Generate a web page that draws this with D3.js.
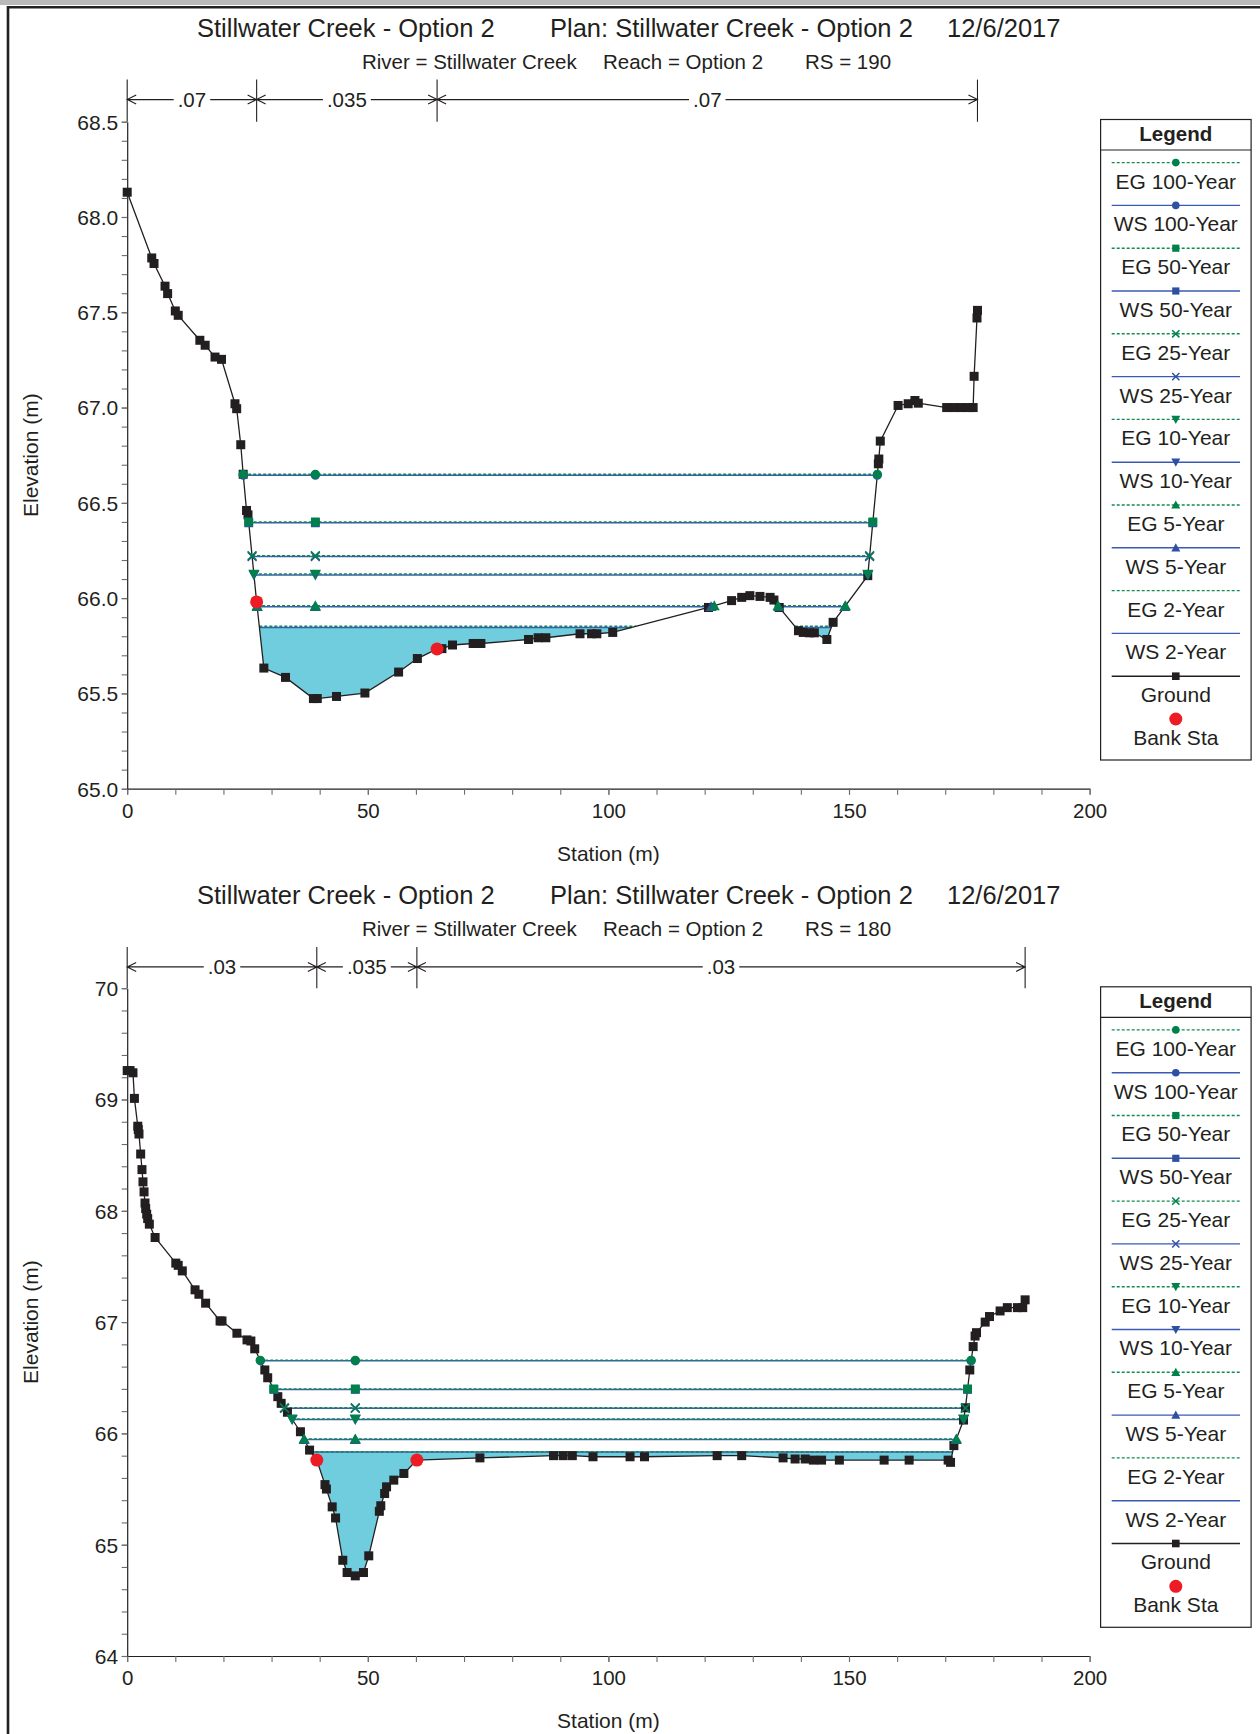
<!DOCTYPE html>
<html><head><meta charset="utf-8">
<script src="https://cdn.jsdelivr.net/npm/d3@7"></script>
<style>
body{margin:0;background:#fff}
svg{display:block}
text{font-family:"Liberation Sans",Arial,Helvetica,sans-serif;fill:#231f20}
</style>
</head><body>
<svg id="c" width="1260" height="1734"></svg>
<script>
// ---------------- DATA ----------------
const profiles = ["100-Year", "50-Year", "25-Year", "10-Year", "5-Year", "2-Year"];
const profileMarkers = ["circle", "square", "x", "down", "up", null];

// RS 190 (station m, elevation m)
const groundRS190 = [
  [0, 68.13], [5.1, 67.785], [5.57, 67.756], [7.86, 67.637], [8.4, 67.598], [10.0, 67.507],
  [10.6, 67.484], [15.1, 67.353], [16.2, 67.327], [18.25, 67.265], [19.6, 67.253], [22.4, 67.02],
  [22.75, 66.994], [23.6, 66.805], [24.1, 66.65], [24.8, 66.46], [25.1, 66.437], [26.9, 65.98],
  [28.4, 65.633], [32.9, 65.584], [38.7, 65.473], [39.5, 65.473], [43.5, 65.484], [49.4, 65.502],
  [56.4, 65.612], [60.3, 65.683], [64.4, 65.733], [65.4, 65.735], [67.6, 65.754], [71.9, 65.762],
  [73.5, 65.762], [83.4, 65.783], [85.4, 65.792], [87.0, 65.792], [94.1, 65.813], [96.5, 65.813],
  [97.6, 65.813], [100.9, 65.82], [120.8, 65.951], [125.6, 65.987], [127.7, 66.004], [129.4, 66.013],
  [131.5, 66.009], [133.6, 66.004], [134.4, 65.99], [135.5, 65.951], [139.5, 65.829], [140.5, 65.82],
  [141.8, 65.818], [142.8, 65.818], [145.4, 65.783], [146.7, 65.873], [153.9, 66.118], [156.1, 66.705],
  [156.2, 66.73], [156.5, 66.824], [160.2, 67.011], [162.3, 67.02], [163.7, 67.037], [164.4, 67.023],
  [170.3, 67.0], [171.8, 67.0], [173.3, 67.0], [174.8, 67.0], [175.8, 67.0], [176.0, 67.164],
  [176.6, 67.47], [176.7, 67.51]
];
const wsRS190 = [66.645, 66.395, 66.218, 66.122, 65.955, 65.846];
const egRS190 = [66.650, 66.400, 66.223, 66.126, 65.960, 65.852];
const bankRS190 = [26.9, 64.4];
const nBreaksRS190 = [0, 26.9, 64.4, 176.7];
const nLabelsRS190 = [".07", ".035", ".07"];

// RS 180
const groundRS180 = [
  [0, 69.26], [0.6, 69.26], [1.2, 69.24], [1.5, 69.01], [2.2, 68.76], [2.3, 68.73], [2.45, 68.69],
  [2.8, 68.51], [3.07, 68.37], [3.28, 68.26], [3.5, 68.17], [3.7, 68.07], [3.84, 68.02], [4.05, 67.97],
  [4.26, 67.93], [4.6, 67.88], [5.8, 67.76], [10.1, 67.53], [10.6, 67.51], [11.45, 67.46], [14.1, 67.29],
  [14.9, 67.25], [16.3, 67.17], [19.3, 67.01], [19.7, 67.01], [22.8, 66.9], [24.9, 66.84], [25.7, 66.83],
  [26.5, 66.76], [28.6, 66.57], [29.2, 66.50], [31.3, 66.33], [32.0, 66.27], [33.3, 66.19], [36.0, 66.015],
  [37.9, 65.85], [39.4, 65.76], [41.1, 65.54], [41.4, 65.50], [42.6, 65.34], [43.3, 65.24], [44.8, 64.86],
  [45.7, 64.75], [47.4, 64.72], [49.1, 64.75], [50.2, 64.90], [52.4, 65.30], [52.7, 65.35], [53.5, 65.46],
  [53.9, 65.52], [55.4, 65.58], [57.5, 65.64], [60.2, 65.76], [73.3, 65.78], [88.6, 65.80], [90.6, 65.80],
  [92.5, 65.80], [96.8, 65.79], [104.5, 65.79], [107.5, 65.79], [122.6, 65.80], [127.7, 65.80],
  [136.3, 65.78], [138.8, 65.77], [140.9, 65.77], [142.6, 65.76], [144.3, 65.76], [148.0, 65.76],
  [157.3, 65.76], [162.5, 65.76], [170.6, 65.76], [171.1, 65.74], [171.8, 65.89], [173.8, 66.12],
  [174.2, 66.23], [175.1, 66.57], [175.8, 66.78], [176.2, 66.875], [176.5, 66.905], [178.3, 67.0],
  [179.2, 67.05], [181.4, 67.10], [182.9, 67.13], [185.0, 67.13], [186.1, 67.13], [186.6, 67.20]
];
const wsRS180 = [66.652, 66.395, 66.225, 66.125, 65.945, 65.832];
const egRS180 = [66.657, 66.400, 66.230, 66.130, 65.950, 65.836];
const bankRS180 = [39.4, 60.2];
const nBreaksRS180 = [0, 39.4, 60.2, 186.6];
const nLabelsRS180 = [".03", ".035", ".03"];

const xTicksMajor = [0, 50, 100, 150, 200];
const yTicksRS190 = [65.0, 65.5, 66.0, 66.5, 67.0, 67.5, 68.0, 68.5];
const yTicksRS180 = [64, 65, 66, 67, 68, 69, 70];

const titleLeft = "Stillwater Creek - Option 2";
const titleMid = "Plan: Stillwater Creek - Option 2";
const titleDate = "12/6/2017";
const riverLabel = "River = Stillwater Creek";
const reachLabel = "Reach = Option 2";

// ---------------- STYLE ----------------
const C = {
  ink: "#231f20", ws: "#3a5bb5", eg: "#138a4f", wsMark: "#2f4fa3", egMark: "#00804a",
  water: "#6fcddd", bank: "#ed1c24", tick: "#6d6d6d"
};
const svg = d3.select("#c");

// frame
svg.append("rect").attr("x", 0).attr("y", 0).attr("width", 1260).attr("height", 5).attr("fill", "#b9b9b9");
svg.append("path").attr("d", "M8,1734 L8,7.2 L1260,7.2").attr("fill", "none").attr("stroke", "#231f20").attr("stroke-width", 2.6);

function markerPath(type, k) {
  k = k || 1;
  if (type === "circle") return d3.symbol(d3.symbolCircle, Math.PI * 4.2 * 4.2 * k * k)();
  if (type === "square") { const h = 4 * k; return `M${-h},${-h}H${h}V${h}H${-h}Z`; }
  if (type === "x") { const h = 4 * k; return `M${-h},${-h}L${h},${h}M${-h},${h}L${h},${-h}`; }
  if (type === "up") { const h = 5 * k; return `M0,${-h}L${h},${h * 0.8}L${-h},${h * 0.8}Z`; }
  if (type === "down") { const h = 5 * k; return `M0,${h}L${h},${-h * 0.8}L${-h},${-h * 0.8}Z`; }
  return "";
}
function drawMarker(g, type, x, y, color, k) {
  const p = g.append("path").attr("d", markerPath(type, k)).attr("transform", `translate(${x},${y})`);
  if (type === "x") p.attr("fill", "none").attr("stroke", color).attr("stroke-width", 1.5);
  else p.attr("fill", color);
}

function wetSpans(ground, level) {
  const spans = []; let start = null;
  for (let i = 0; i < ground.length - 1; i++) {
    const [s0, e0] = ground[i], [s1, e1] = ground[i + 1];
    const b0 = e0 < level, b1 = e1 < level;
    if (i === 0 && b0) start = s0;
    if (!b0 && b1) start = s0 + (level - e0) / (e1 - e0) * (s1 - s0);
    if (b0 && !b1) { spans.push([start, s0 + (level - e0) / (e1 - e0) * (s1 - s0)]); start = null; }
  }
  return spans;
}

function drawChart(cfg) {
  const dy = cfg.dy;
  const g = svg.append("g");
  const x = d3.scaleLinear().domain([0, 200]).range([127.2, 1089.6]);
  const y = d3.scaleLinear().domain(cfg.yDomain).range(cfg.yRange);

  // titles
  const tf = 25.5, sf = 20.5;
  g.append("text").attr("x", 197).attr("y", 36.5 + dy).attr("font-size", tf).text(titleLeft);
  g.append("text").attr("x", 550).attr("y", 36.5 + dy).attr("font-size", tf).text(titleMid);
  g.append("text").attr("x", 947).attr("y", 36.5 + dy).attr("font-size", tf).text(titleDate);
  g.append("text").attr("x", 362).attr("y", 68.5 + dy).attr("font-size", sf).text(riverLabel);
  g.append("text").attr("x", 603).attr("y", 68.5 + dy).attr("font-size", sf).text(reachLabel);
  g.append("text").attr("x", 805).attr("y", 68.5 + dy).attr("font-size", sf).text(cfg.rs);

  // Manning's n
  const nTop = 79.6 + dy, nY = 99.6 + dy, axTop = y(cfg.yDomain[1]);
  cfg.nBreaks.forEach(b => {
    g.append("line").attr("x1", x(b)).attr("x2", x(b)).attr("y1", nTop).attr("y2", axTop)
      .attr("stroke", C.ink).attr("stroke-width", 1.1);
  });
  cfg.nLabels.forEach((lab, i) => {
    const a = x(cfg.nBreaks[i]), b = x(cfg.nBreaks[i + 1]), m = (a + b) / 2;
    const t = g.append("text").attr("x", m).attr("y", nY + 7).attr("text-anchor", "middle")
      .attr("font-size", 20.5).text(lab);
    const w = t.node().getComputedTextLength();
    const p = 4;
    g.append("path").attr("d",
      `M${a},${nY}L${m - w / 2 - p},${nY}M${m + w / 2 + p},${nY}L${b},${nY}` +
      `M${a + 9},${nY - 4.5}L${a},${nY}L${a + 9},${nY + 4.5}` +
      `M${b - 9},${nY - 4.5}L${b},${nY}L${b - 9},${nY + 4.5}`)
      .attr("fill", "none").attr("stroke", C.ink).attr("stroke-width", 1.1);
  });

  // axes
  const xMinor = d3.range(0, 201, 10);
  const ax = g.append("g").attr("transform", `translate(0,${y(cfg.yDomain[0])})`);
  ax.call(d3.axisBottom(x).tickValues(xMinor).tickSize(6).tickSizeOuter(0).tickFormat(""));
  ax.selectAll(".tick line").attr("stroke", C.tick).attr("stroke-width", 1.1);
  ax.select(".domain").attr("stroke", C.ink).attr("stroke-width", 1.2);
  const axl = g.append("g").attr("transform", `translate(0,${y(cfg.yDomain[0])})`);
  axl.call(d3.axisBottom(x).tickValues(xTicksMajor).tickSize(6).tickSizeOuter(0).tickFormat(d3.format("d")));
  axl.select(".domain").remove();
  axl.selectAll(".tick line").attr("stroke", C.tick).attr("stroke-width", 1.1);
  axl.selectAll(".tick text").attr("font-size", 20.5).attr("font-family", null).attr("dy", null).attr("y", 29).attr("fill", C.ink);
  axl.attr("font-family", null).attr("font-size", null);

  const yMinor = d3.range(cfg.yDomain[0], cfg.yDomain[1] + 1e-6, cfg.yMinorStep).map(v => +v.toFixed(3));
  const ay = g.append("g").attr("transform", `translate(${x(0)},0)`);
  ay.call(d3.axisLeft(y).tickValues(yMinor).tickSize(5.5).tickSizeOuter(0).tickFormat(""));
  ay.selectAll(".tick line").attr("stroke", C.tick).attr("stroke-width", 1.1);
  ay.select(".domain").attr("stroke", C.ink).attr("stroke-width", 1.2);
  const ayl = g.append("g").attr("transform", `translate(${x(0)},0)`);
  ayl.call(d3.axisLeft(y).tickValues(cfg.yTicks).tickSize(5.5).tickSizeOuter(0).tickFormat(d3.format(cfg.yFmt)));
  ayl.select(".domain").remove();
  ayl.selectAll(".tick line").attr("stroke", C.tick).attr("stroke-width", 1.1);
  ayl.selectAll(".tick text").attr("font-size", 21).attr("font-family", null).attr("x", -9).attr("dy", "0.35em").attr("fill", C.ink);
  ayl.attr("font-family", null).attr("font-size", null);

  g.append("text").attr("x", (x(0) + x(200)) / 2).attr("y", y(cfg.yDomain[0]) + 72)
    .attr("text-anchor", "middle").attr("font-size", 21).text("Station (m)");
  const ym = (y(cfg.yDomain[0]) + y(cfg.yDomain[1])) / 2;
  g.append("text").attr("transform", `translate(38,${ym}) rotate(-90)`)
    .attr("text-anchor", "middle").attr("font-size", 21).text("Elevation (m)");

  // water fill (2-year WS)
  const lowWS = cfg.ws[cfg.ws.length - 1];
  const line = d3.line().x(d => x(d[0])).y(d => y(d[1]));
  wetSpans(cfg.ground, lowWS).forEach(([a, b]) => {
    const pts = [[a, lowWS]].concat(cfg.ground.filter(d => d[0] > a && d[0] < b)).concat([[b, lowWS]]);
    g.append("path").attr("d", line(pts) + "Z").attr("fill", C.water).attr("stroke", "none");
  });

  // WS and EG lines
  const markerQueue = [];
  profiles.forEach((p, i) => {
    [["ws", cfg.ws[i]], ["eg", cfg.eg[i]]].forEach(([kind, lev]) => {
      wetSpans(cfg.ground, lev).forEach(([a, b]) => {
        const l = g.append("line").attr("x1", x(a)).attr("x2", x(b)).attr("y1", y(lev)).attr("y2", y(lev))
          .attr("stroke-width", 1.5);
        if (kind === "ws") l.attr("stroke", C.ws);
        else l.attr("stroke", C.eg).attr("stroke-dasharray", "3,2");
        if (profileMarkers[i]) {
          const st = [a, b];
          if (cfg.markSt > a && cfg.markSt < b) st.push(cfg.markSt);
          st.forEach(s => markerQueue.push({ kind, type: profileMarkers[i], s, lev }));
        }
      });
    });
  });

  // ground
  g.append("path").attr("d", line(cfg.ground)).attr("fill", "none").attr("stroke", C.ink).attr("stroke-width", 1.3);
  g.selectAll(null).data(cfg.ground).enter().append("rect")
    .attr("x", d => x(d[0]) - 4.5).attr("y", d => y(d[1]) - 4.5).attr("width", 9).attr("height", 9).attr("fill", C.ink);

  // markers: WS below EG
  markerQueue.filter(m => m.kind === "ws").forEach(m => drawMarker(g, m.type, x(m.s), y(m.lev), C.wsMark, 1.1));
  markerQueue.filter(m => m.kind === "eg").forEach(m => drawMarker(g, m.type, x(m.s), y(m.lev), C.egMark, 1.1));

  // bank stations
  const bankElev = s => {
    const gr = cfg.ground;
    for (let i = 0; i < gr.length - 1; i++) {
      if (s >= gr[i][0] && s <= gr[i + 1][0]) {
        const t = gr[i + 1][0] === gr[i][0] ? 0 : (s - gr[i][0]) / (gr[i + 1][0] - gr[i][0]);
        return gr[i][1] + t * (gr[i + 1][1] - gr[i][1]);
      }
    }
    return gr[0][1];
  };
  cfg.bank.forEach(s => {
    g.append("circle").attr("cx", x(s)).attr("cy", y(bankElev(s))).attr("r", 6.5).attr("fill", C.bank);
  });

  // legend
  const L = g.append("g").attr("transform", `translate(0,${dy})`);
  L.append("rect").attr("x", 1100.6).attr("y", 119.5).attr("width", 150.5).attr("height", 640.5)
    .attr("fill", "#fff").attr("stroke", C.ink).attr("stroke-width", 1.2);
  L.append("text").attr("x", 1175.8).attr("y", 141).attr("text-anchor", "middle").attr("font-size", 20.5)
    .attr("font-weight", "bold").text("Legend");
  L.append("line").attr("x1", 1100.6).attr("x2", 1251).attr("y1", 150).attr("y2", 150).attr("stroke", C.ink).attr("stroke-width", 1.2);
  const entries = [];
  profiles.forEach((p, i) => {
    entries.push({ label: "EG " + p, kind: "eg", type: profileMarkers[i] });
    entries.push({ label: "WS " + p, kind: "ws", type: profileMarkers[i] });
  });
  entries.push({ label: "Ground", kind: "ground", type: "square" });
  entries.push({ label: "Bank Sta", kind: "bank", type: "circle" });
  entries.forEach((e, i) => {
    const ly = 162.6 + i * 42.8;
    if (e.kind !== "bank") {
      const l = L.append("line").attr("x1", 1111.7).attr("x2", 1240).attr("y1", ly).attr("y2", ly).attr("stroke-width", 1.4);
      if (e.kind === "eg") l.attr("stroke", C.eg).attr("stroke-dasharray", "3,2");
      else if (e.kind === "ws") l.attr("stroke", C.ws);
      else l.attr("stroke", C.ink);
    }
    if (e.kind === "bank") L.append("circle").attr("cx", 1175.8).attr("cy", ly).attr("r", 6.5).attr("fill", C.bank);
    else if (e.kind === "ground") L.append("rect").attr("x", 1172).attr("y", ly - 3.8).attr("width", 7.6).attr("height", 7.6).attr("fill", C.ink);
    else if (e.type) drawMarker(L, e.type, 1175.8, ly, e.kind === "eg" ? C.egMark : C.wsMark, 0.9);
    L.append("text").attr("x", 1175.8).attr("y", ly + 26).attr("text-anchor", "middle").attr("font-size", 21).text(e.label);
  });
}

drawChart({
  dy: 0, rs: "RS = 190", ground: groundRS190, ws: wsRS190, eg: egRS190, bank: bankRS190,
  nBreaks: nBreaksRS190, nLabels: nLabelsRS190, yDomain: [65, 68.5], yRange: [788.7, 121.7],
  yTicks: yTicksRS190, yMinorStep: 0.1, yFmt: ".1f", markSt: 39.1
});
drawChart({
  dy: 867.3, rs: "RS = 180", ground: groundRS180, ws: wsRS180, eg: egRS180, bank: bankRS180,
  nBreaks: nBreaksRS180, nLabels: nLabelsRS180, yDomain: [64, 70], yRange: [1656, 988.2],
  yTicks: yTicksRS180, yMinorStep: 0.2, yFmt: "d", markSt: 47.4
});
</script>
</body></html>
